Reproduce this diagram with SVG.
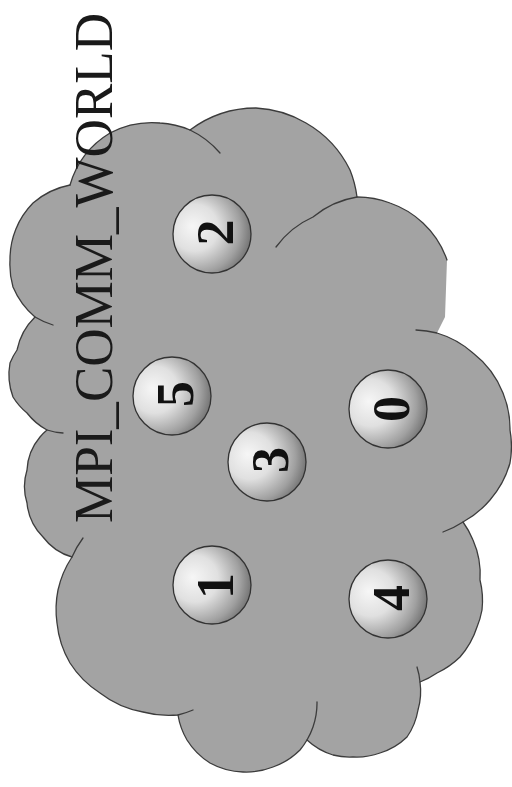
<svg xmlns="http://www.w3.org/2000/svg" width="512" height="787" viewBox="0 0 512 787">
<defs>
<radialGradient id="ballGrad" cx="0.32" cy="0.45" r="0.75" fx="0.25" fy="0.4">
<stop offset="0" stop-color="#f6f6f6"/>
<stop offset="0.4" stop-color="#e0e0e0"/>
<stop offset="0.75" stop-color="#a0a0a0"/>
<stop offset="1" stop-color="#626262"/>
</radialGradient>
</defs>
<style>
.cloud{fill:#a3a3a3;stroke:none}
.edge{fill:none;stroke:#3c3c3c;stroke-width:1.3;stroke-linecap:round}
.ball{fill:url(#ballGrad);stroke:#333;stroke-width:1.3}
.num{font-family:"Liberation Serif","Times New Roman",serif;font-weight:bold;font-size:52px;fill:#111;text-anchor:middle}
.title{font-family:"Liberation Serif","Times New Roman",serif;font-size:55px;fill:#1a1a1a}
</style>
<rect width="512" height="787" fill="#ffffff"/>
<g id="cloud">
<path class="cloud" d="M70,185 A90,90 0 0 1 110,133 A90,90 0 0 1 160,123 A90,90 0 0 1 190,130
A110,110 0 0 1 256,108 A110,110 0 0 1 306,123 A110,110 0 0 1 350,170 A110,110 0 0 1 357,197
A92,92 0 0 1 390,203 A92,92 0 0 1 423,223 A92,92 0 0 1 447,260 L445,317 L437,333
A95,95 0 0 1 473,353 A95,95 0 0 1 503,393 A95,95 0 0 1 510,430 A95,95 0 0 1 510,463 A95,95 0 0 1 490,500 A95,95 0 0 1 463,522
A85,85 0 0 1 473,540 A85,85 0 0 1 480,580 A85,85 0 0 1 482,610 A85,85 0 0 1 477,627 A85,85 0 0 1 460,657 A85,85 0 0 1 437,673 A85,85 0 0 1 420,682
A67,67 0 0 1 418,710 A67,67 0 0 1 407,737 A67,67 0 0 1 380,753 A67,67 0 0 1 353,757 A67,67 0 0 1 333,755 A67,67 0 0 1 307,740
A72,72 0 0 1 300,750 A72,72 0 0 1 273,767 A72,72 0 0 1 243,772 A72,72 0 0 1 210,763 A72,72 0 0 1 187,740 A72,72 0 0 1 178,715
A98,98 0 0 1 143,712 A98,98 0 0 1 100,693 A98,98 0 0 1 70,663 A98,98 0 0 1 57,623 A98,98 0 0 1 58,590 A98,98 0 0 1 72,557
A55,55 0 0 1 43,537 A55,55 0 0 1 27,503 A55,55 0 0 1 27,470 A55,55 0 0 1 40,437 A55,55 0 0 1 47,430
A64,64 0 0 1 27,413 A64,64 0 0 1 13,397 A64,64 0 0 1 10,363 A64,64 0 0 1 17,350 A64,64 0 0 1 35,317
A80,80 0 0 1 13,287 A80,80 0 0 1 10,260 A80,80 0 0 1 33,203 A80,80 0 0 1 70,185 Z"/>
<path class="edge" d="M70,185 A90,90 0 0 1 110,133 A90,90 0 0 1 160,123 A90,90 0 0 1 190,130 A90,90 0 0 1 220,153"/>
<path class="edge" d="M190,130 A110,110 0 0 1 256,108 A110,110 0 0 1 306,123 A110,110 0 0 1 350,170 A110,110 0 0 1 357,197"/>
<path class="edge" d="M276,247 A92,92 0 0 1 313,217 A92,92 0 0 1 357,197 A92,92 0 0 1 390,203 A92,92 0 0 1 423,223 A92,92 0 0 1 447,260"/>
<path class="edge" d="M416,330 A95,95 0 0 1 437,333 A95,95 0 0 1 473,353 A95,95 0 0 1 503,393 A95,95 0 0 1 510,430 A95,95 0 0 1 510,463 A95,95 0 0 1 490,500 A95,95 0 0 1 463,522 A95,95 0 0 1 443,532"/>
<path class="edge" d="M463,522 A85,85 0 0 1 473,540 A85,85 0 0 1 480,580 A85,85 0 0 1 482,610 A85,85 0 0 1 477,627 A85,85 0 0 1 460,657 A85,85 0 0 1 437,673 A85,85 0 0 1 420,682"/>
<path class="edge" d="M417,667 A67,67 0 0 1 420,682 A67,67 0 0 1 418,710 A67,67 0 0 1 407,737 A67,67 0 0 1 380,753 A67,67 0 0 1 353,757 A67,67 0 0 1 333,755 A67,67 0 0 1 307,740"/>
<path class="edge" d="M317,702 A72,72 0 0 1 313,727 A72,72 0 0 1 307,740 A72,72 0 0 1 300,750 A72,72 0 0 1 273,767 A72,72 0 0 1 243,772 A72,72 0 0 1 210,763 A72,72 0 0 1 187,740 A72,72 0 0 1 178,715"/>
<path class="edge" d="M193,710 A98,98 0 0 1 178,715 A98,98 0 0 1 143,712 A98,98 0 0 1 100,693 A98,98 0 0 1 70,663 A98,98 0 0 1 57,623 A98,98 0 0 1 58,590 A98,98 0 0 1 72,557 A98,98 0 0 1 83,538"/>
<path class="edge" d="M72,557 A55,55 0 0 1 43,537 A55,55 0 0 1 27,503 A55,55 0 0 1 27,470 A55,55 0 0 1 40,437 A55,55 0 0 1 47,430"/>
<path class="edge" d="M63,433 A64,64 0 0 1 47,430 A64,64 0 0 1 27,413 A64,64 0 0 1 13,397 A64,64 0 0 1 10,363 A64,64 0 0 1 17,350 A64,64 0 0 1 35,317"/>
<path class="edge" d="M53,325 A80,80 0 0 1 35,317 A80,80 0 0 1 13,287 A80,80 0 0 1 10,260 A80,80 0 0 1 33,203 A80,80 0 0 1 70,185"/>
</g>
<g id="connectors"/>
<g id="title">
<text class="title" transform="translate(112,523) rotate(-90)" x="0" y="0" textLength="510" lengthAdjust="spacingAndGlyphs">MPI_COMM_WORLD</text>
</g>
<g id="node-2">
<circle class="ball" cx="212" cy="234" r="39"/>
<text class="num" transform="translate(215.5,232.5) rotate(-90)" x="0" y="17.6">2</text>
</g>
<g id="node-5">
<circle class="ball" cx="172" cy="396" r="39"/>
<text class="num" transform="translate(175,394) rotate(-90)" x="0" y="17.6">5</text>
</g>
<g id="node-3">
<circle class="ball" cx="267" cy="462" r="39"/>
<text class="num" transform="translate(270,460) rotate(-90)" x="0" y="17.6">3</text>
</g>
<g id="node-0">
<circle class="ball" cx="388" cy="409" r="39"/>
<text class="num" transform="translate(391.5,409) rotate(-90)" x="0" y="17.6">0</text>
</g>
<g id="node-1">
<circle class="ball" cx="212" cy="585" r="39"/>
<text class="num" transform="translate(215.5,586) rotate(-90)" x="0" y="17.6">1</text>
</g>
<g id="node-4">
<circle class="ball" cx="388" cy="599" r="39"/>
<text class="num" transform="translate(391,598) rotate(-90)" x="0" y="17.6">4</text>
</g>
</svg>
